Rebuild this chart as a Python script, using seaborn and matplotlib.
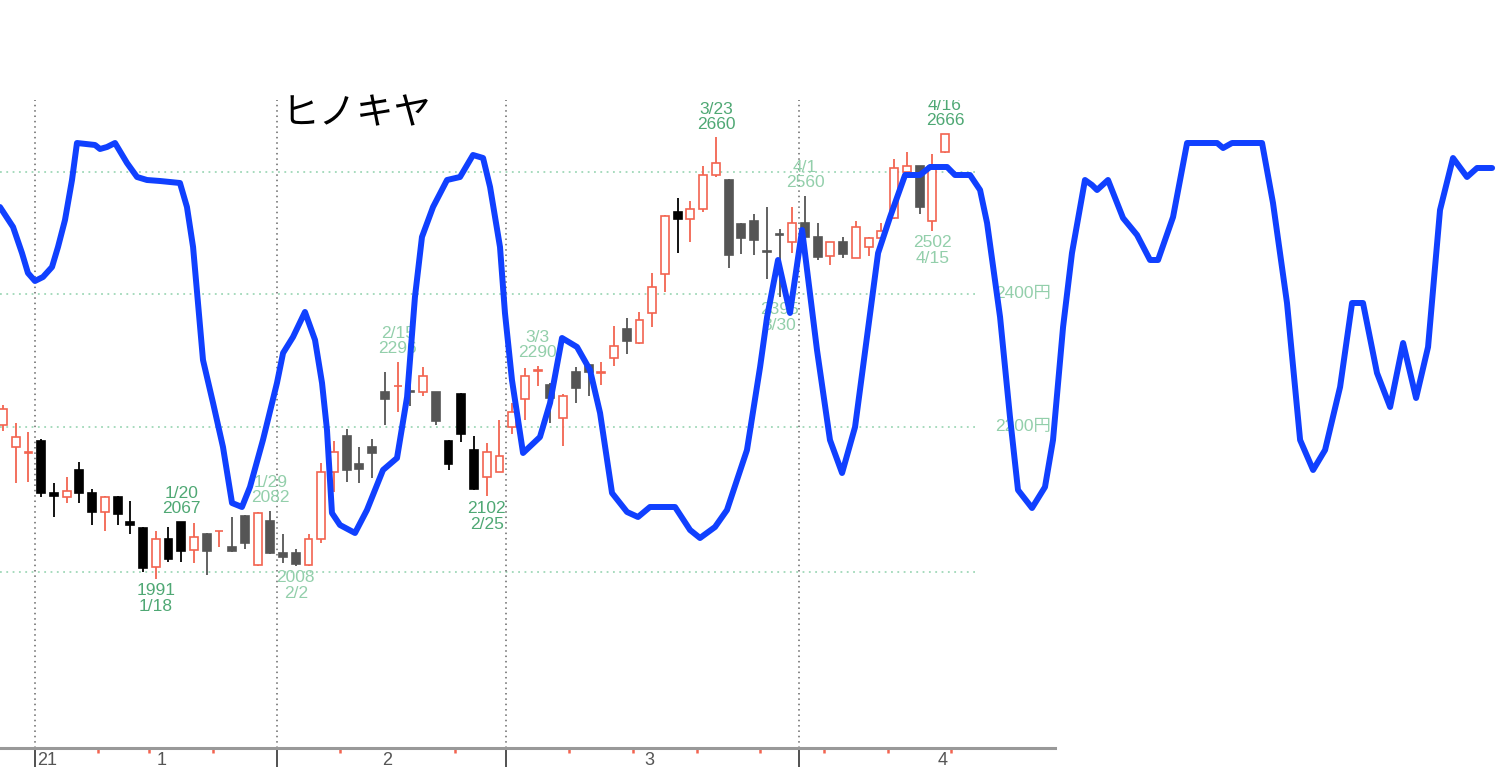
import matplotlib
matplotlib.use("Agg")
import matplotlib.pyplot as plt
from matplotlib import font_manager
import numpy as np
import seaborn as sns

# daily candles, 12/28 .. 4/16
OPEN = [2202, 2171, 2163, 2180, 2106, 2101, 2138, 2106, 2080, 2101,
        2067, 2058, 2007, 2044, 2067, 2029, 2051, 2054, 2033, 2075,
        2009, 2068, 2025, 2025, 2009, 2044, 2136, 2187, 2147, 2171,
        2250, 2259, 2252, 2250, 2250, 2180, 2248, 2166, 2129, 2136,
        2200, 2241, 2282, 2261, 2212, 2281, 2291, 2279, 2302, 2346,
        2324, 2371, 2432, 2532, 2521, 2537, 2595, 2587, 2512, 2517,
        2468, 2496, 2483, 2514, 2492, 2461, 2483, 2457, 2475, 2489,
        2522, 2600, 2610, 2517, 2634]
HIGH = [2232, 2205, 2193, 2182, 2120, 2129, 2150, 2112, 2102, 2102,
        2095, 2060, 2054, 2060, 2067, 2066, 2052, 2055, 2074, 2076,
        2080, 2082, 2051, 2031, 2050, 2148, 2180, 2196, 2171, 2183,
        2281, 2296, 2269, 2288, 2251, 2181, 2249, 2187, 2176, 2210,
        2234, 2287, 2290, 2264, 2247, 2288, 2292, 2296, 2350, 2362,
        2372, 2433, 2527, 2556, 2551, 2610, 2660, 2588, 2515, 2529,
        2541, 2505, 2541, 2560, 2515, 2484, 2492, 2517, 2492, 2515,
        2622, 2634, 2611, 2631, 2666]
LOW = [2194, 2120, 2122, 2101, 2074, 2093, 2093, 2062, 2055, 2062,
       2050, 2000, 1991, 2013, 2013, 2012, 1996, 2033, 2027, 2030,
       2008, 2024, 2012, 2008, 2008, 2039, 2108, 2122, 2120, 2127,
       2202, 2221, 2230, 2244, 2203, 2138, 2178, 2110, 2102, 2135,
       2190, 2210, 2260, 2205, 2173, 2234, 2244, 2261, 2290, 2307,
       2323, 2348, 2403, 2465, 2483, 2532, 2592, 2441, 2464, 2462,
       2424, 2395, 2465, 2490, 2454, 2446, 2457, 2457, 2461, 2488,
       2521, 2599, 2529, 2502, 2633]
CLOSE = [2226, 2185, 2164, 2106, 2102, 2109, 2106, 2080, 2101, 2078,
         2062, 2005, 2044, 2017, 2028, 2047, 2028, 2055, 2028, 2039,
         2079, 2025, 2020, 2011, 2044, 2136, 2164, 2138, 2140, 2162,
         2241, 2260, 2251, 2274, 2208, 2147, 2190, 2112, 2164, 2158,
         2221, 2275, 2283, 2242, 2244, 2257, 2281, 2280, 2320, 2327,
         2360, 2411, 2526, 2521, 2537, 2595, 2615, 2462, 2489, 2486,
         2467, 2495, 2514, 2492, 2459, 2483, 2464, 2507, 2489, 2502,
         2607, 2610, 2541, 2610, 2665]
# r = up candle, k = black down candle, g = grey down candle
SHADE = ("rrrkkrkkrk" "kkrkkrgrgg" "rgggrrrggg" "grgrgkkkrr"
         "rrrgrggrrg" "rrrkrrrggg" "ggrggrgrrr" "rrgrr")

# high / low marks (candle number, 1-based)
MARK_CANDLE = [13, 15, 22, 24, 32, 39, 43, 57, 62, 64, 74, 75]
MARK_DATE = ["1/18", "1/20", "1/29", "2/2", "2/15", "2/25", "3/3", "3/23",
             "3/30", "4/1", "4/15", "4/16"]
MARK_VALUE = [1991, 2067, 2082, 2008, 2296, 2102, 2290, 2660, 2395, 2560, 2502, 2666]
MARK_TONE = "ddllldldllld"

MONTH_BREAKS = [2.5, 21.5, 39.5, 62.5]
WEEK_BREAKS = [7.5, 11.5, 16.5, 26.5, 35.5, 44.5, 49.5, 54.5, 59.5, 64.5, 69.5, 74.5]
MONTH_LABELS = ["1", "2", "3", "4"]
MONTH_LABEL_AT = [12.5, 30.2, 50.8, 73.8]
GRID_PRICES = [2600, 2400, 2200, 2000]
PRICE_LABELS = {2400: "2400円", 2200: "2200円"}

# blue overlay line (day index, value)
OSC_X = [-0.24, 0.79, 1.49, 1.96, 2.51, 3.14, 3.85, 4.32, 4.87, 5.42, 5.81, 7.23,
         7.62, 8.17, 8.80, 9.74, 10.53, 11.31, 12.33, 13.90, 14.45, 14.93, 15.32,
         15.71, 16.50, 17.28, 17.99, 18.77, 19.40, 20.42, 21.52, 22.00, 22.78,
         23.72, 24.51, 25.06, 25.45, 25.84, 26.47, 27.65, 28.59, 29.85, 30.95,
         31.74, 32.36, 32.91, 33.78, 34.88, 35.90, 36.92, 37.71, 38.26, 39.04,
         39.43, 39.98, 40.85, 42.18, 42.97, 43.91, 45.09, 46.11, 46.90, 47.84,
         49.02, 49.88, 50.82, 52.79, 53.97, 54.75, 55.93, 56.87, 58.44, 59.47,
         60.02, 60.88, 61.82, 62.77, 63.94, 64.96, 65.91, 66.93, 67.87, 68.74,
         69.68, 70.86, 72.03, 72.82, 74.16, 74.78, 75.96, 76.75, 77.30, 78.32,
         79.10, 79.73, 80.83, 81.85, 82.48, 83.27, 83.97, 84.99, 85.54, 85.94,
         86.80, 87.98, 89.08, 90.10, 90.73, 91.91, 93.01, 95.37, 95.84, 96.54,
         98.90, 99.76, 100.86, 101.89, 102.91, 103.85, 105.03, 105.97, 106.83,
         107.93, 108.96, 109.98, 111.00, 111.94, 112.88, 113.90, 115.00, 115.79,
         116.97]
OSC_Y = [83.25, 78.25, 71.75, 66.75, 64.75, 65.75, 68.25, 73.25, 80.0, 90.0, 99.25,
         98.75, 97.75, 98.25, 99.25, 94.25, 90.75, 90.0, 89.75, 89.25, 83.25, 73.25,
         59.25, 45.0, 34.25, 23.25, 9.25, 8.25, 13.25, 25.0, 39.25, 46.75, 50.75,
         57.0, 50.0, 39.25, 27.5, 6.75, 3.75, 1.75, 7.5, 17.5, 20.5, 35.75, 60.75,
         75.75, 83.25, 90.0, 90.75, 96.25, 95.5, 88.25, 73.25, 56.75, 40.0, 21.75,
         25.75, 34.25, 50.5, 48.25, 42.5, 31.75, 11.75, 7.0, 5.75, 8.25, 8.25, 2.5,
         0.5, 3.25, 7.5, 22.5, 43.25, 55.75, 70.0, 56.75, 77.5, 47.5, 25.0, 16.75,
         28.25, 50.75, 71.75, 80.75, 91.25, 91.25, 93.25, 93.25, 91.25, 91.25, 87.5,
         79.25, 55.75, 30.75, 12.5, 8.0, 13.25, 25.0, 53.25, 71.75, 90.0, 88.75,
         87.5, 90.0, 80.5, 76.25, 70.0, 70.0, 80.75, 99.25, 99.25, 98.0, 99.25,
         99.25, 84.25, 59.25, 25.0, 17.5, 22.5, 38.25, 59.25, 59.25, 41.75, 33.25,
         49.25, 35.5, 48.25, 82.5, 95.5, 90.75, 93.0, 93.0]

sns.set_style("white")
names = {f.name for f in font_manager.fontManager.ttflist}
NARROW = "Liberation Sans Narrow" if "Liberation Sans Narrow" in names else "Liberation Sans"
plt.rcParams["font.family"] = [NARROW, "Noto Sans CJK JP"]

RED = "#f26450"
face = {"r": "white", "k": "black", "g": "#555555"}
edge = {"r": RED, "k": "black", "g": "#555555"}
GREEN = {"d": "#4fa874", "l": "#93cfab"}

fig = plt.figure(figsize=(15.01, 7.81), dpi=100)
ax = fig.add_axes([0, 33 / 781, 1055 / 1501, 648 / 781])

x = np.arange(len(OPEN))
o, c = np.array(OPEN), np.array(CLOSE)
lo, hi = np.minimum(o, c), np.maximum(o, c)

ax.vlines(x, LOW, HIGH, colors=[edge[s] for s in SHADE], linewidth=1.3, zorder=3)
ax.bar(x, np.maximum(hi - lo, 0.6), bottom=lo, width=0.62,
       color=[face[s] for s in SHADE], edgecolor=[edge[s] for s in SHADE],
       linewidth=1.2, zorder=4)

ax.set_yscale("log")
ax.set_ylim(1782, 2725.6)
ax.set_xlim(-0.2357, 82.64)

ax.hlines(GRID_PRICES, -0.24, 76.5, colors="#9fd8b8", linestyles=(0, (1, 2.5)),
          linewidth=1.3, zorder=1)
for b in MONTH_BREAKS:
    ax.axvline(b, color="#666666", linestyle=(0, (1, 2.5)), linewidth=1.1, zorder=1)

for p, txt in PRICE_LABELS.items():
    ax.text(77.9, p, txt, color="#93cfab", fontsize=12.5, ha="left", va="center")

for cn, dt, val, tone in zip(MARK_CANDLE, MARK_DATE, MARK_VALUE, MARK_TONE):
    j = cn - 1
    col = GREEN[tone]
    if val == HIGH[j]:
        offs = [(str(val), 13), (dt, 28)]
    else:
        offs = [(str(val), -12), (dt, -28)]
    for txt, dy in offs:
        ax.annotate(txt, (j, val), xytext=(0, dy), textcoords="offset pixels",
                    ha="center", va="center", color=col, fontsize=12.5,
                    annotation_clip=False, clip_on=True, zorder=2)

# axis
for s in ["left", "right", "top"]:
    ax.spines[s].set_visible(False)
ax.spines["bottom"].set_color("#999999")
ax.spines["bottom"].set_linewidth(2.2)
ax.tick_params(axis="y", which="both", left=False, labelleft=False)
ax.set_xticks(MONTH_BREAKS)
ax.set_xticklabels([])
ax.set_xticks(WEEK_BREAKS, minor=True)
ax.tick_params(axis="x", which="major", bottom=True, length=14, width=1.2,
               color="#333333", direction="out")
ax.tick_params(axis="x", which="minor", bottom=True, length=3.5, width=1.8,
               color=RED, direction="out")
tr = ax.get_xaxis_transform()
for pos, lab in zip(MONTH_LABEL_AT, MONTH_LABELS):
    ax.text(pos, -0.019, lab, transform=tr, ha="center", va="center",
            color="#555555", fontsize=13)
ax.text(2.68, -0.019, "21", transform=tr, ha="left", va="center",
        color="#555555", fontsize=13)

fig.text(282 / 1501, 1 - 114 / 781, "ヒノキヤ", family="Noto Sans CJK JP",
         fontsize=27, color="black", ha="left", va="center")

# overlay line on full-width axes
ax2 = fig.add_axes([0, 0, 1, 1], zorder=5)
ax2.patch.set_alpha(0)
sns.lineplot(x=OSC_X, y=OSC_Y, ax=ax2, sort=False, estimator=None,
             color="#1040ff", linewidth=4.3)
ax2.set_xlim(-0.2357, 117.67)
ax2.set_ylim(-60.25, 135)
ax2.axis("off")

fig.savefig("out.png", dpi=100)
